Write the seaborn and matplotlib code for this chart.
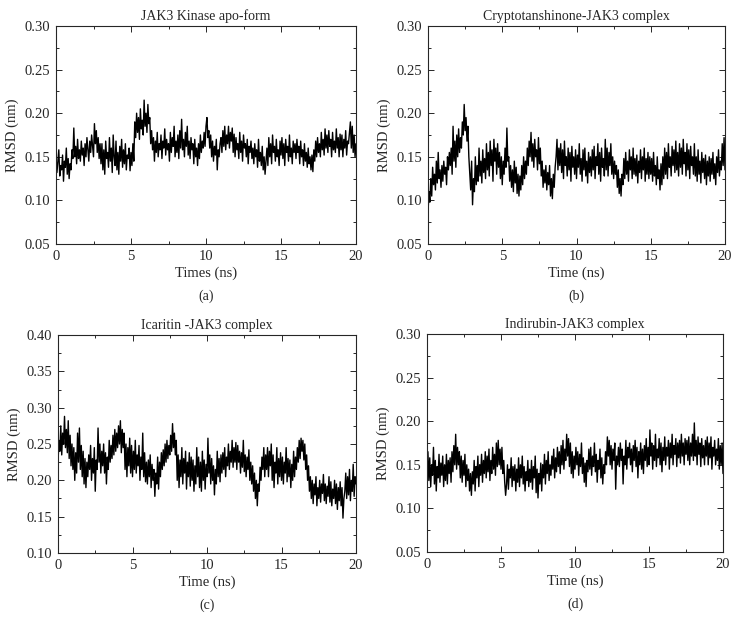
import pandas as pd
import matplotlib
matplotlib.use("Agg")
import matplotlib.pyplot as plt
import seaborn as sns
from matplotlib import ticker

# RMSD traces (nm), sampled 16 times per ns from 0 to 20 ns
rmsd_apo = [
    0.150, 0.132, 0.145, 0.158, 0.128, 0.140, 0.135, 0.152, 0.122, 0.145, 0.138, 0.160, 0.130, 0.148, 0.125, 0.142,
    0.135, 0.158, 0.148, 0.183, 0.150, 0.162, 0.142, 0.170, 0.148, 0.158, 0.145, 0.168, 0.152, 0.160, 0.140, 0.165,
    0.150, 0.172, 0.158, 0.145, 0.168, 0.155, 0.175, 0.162, 0.150, 0.188, 0.165, 0.180, 0.155, 0.172, 0.148, 0.165,
    0.142, 0.165, 0.135, 0.158, 0.130, 0.168, 0.148, 0.155, 0.138, 0.172, 0.145, 0.160, 0.132, 0.175, 0.150, 0.140,
    0.168, 0.135, 0.155, 0.130, 0.162, 0.145, 0.170, 0.138, 0.158, 0.142, 0.165, 0.135, 0.152, 0.148, 0.160, 0.134,
    0.155, 0.140, 0.165, 0.145, 0.190, 0.172, 0.200, 0.178, 0.195, 0.170, 0.205, 0.182, 0.192, 0.175, 0.215, 0.185,
    0.200, 0.178, 0.210, 0.188, 0.195, 0.165, 0.180, 0.158, 0.172, 0.145, 0.168, 0.155, 0.178, 0.150, 0.165, 0.158,
    0.175, 0.148, 0.168, 0.160, 0.182, 0.152, 0.170, 0.158, 0.165, 0.145, 0.178, 0.155, 0.172, 0.162, 0.185, 0.150,
    0.168, 0.155, 0.175, 0.148, 0.180, 0.160, 0.193, 0.158, 0.170, 0.150, 0.178, 0.162, 0.185, 0.152, 0.168, 0.148,
    0.172, 0.158, 0.165, 0.142, 0.170, 0.150, 0.160, 0.140, 0.165, 0.148, 0.175, 0.155, 0.168, 0.160, 0.178, 0.162,
    0.185, 0.195, 0.172, 0.180, 0.160, 0.175, 0.150, 0.168, 0.145, 0.162, 0.152, 0.170, 0.135, 0.158, 0.150, 0.165,
    0.172, 0.155, 0.180, 0.162, 0.185, 0.158, 0.175, 0.165, 0.185, 0.160, 0.178, 0.168, 0.183, 0.155, 0.176, 0.150,
    0.172, 0.158, 0.165, 0.148, 0.178, 0.155, 0.168, 0.145, 0.175, 0.160, 0.165, 0.150, 0.170, 0.142, 0.162, 0.155,
    0.168, 0.148, 0.160, 0.142, 0.165, 0.150, 0.158, 0.138, 0.170, 0.145, 0.155, 0.140, 0.162, 0.135, 0.150, 0.130,
    0.145, 0.160, 0.140, 0.172, 0.150, 0.165, 0.142, 0.175, 0.155, 0.162, 0.145, 0.170, 0.150, 0.158, 0.140, 0.168,
    0.152, 0.172, 0.148, 0.165, 0.140, 0.170, 0.155, 0.162, 0.145, 0.175, 0.150, 0.160, 0.142, 0.168, 0.155, 0.165,
    0.148, 0.170, 0.155, 0.162, 0.142, 0.168, 0.150, 0.158, 0.140, 0.165, 0.145, 0.155, 0.138, 0.160, 0.142, 0.150,
    0.135, 0.152, 0.133, 0.158, 0.145, 0.168, 0.150, 0.172, 0.155, 0.165, 0.150, 0.178, 0.158, 0.170, 0.152, 0.182,
    0.160, 0.175, 0.155, 0.180, 0.162, 0.170, 0.150, 0.178, 0.158, 0.168, 0.155, 0.182, 0.160, 0.172, 0.150, 0.176,
    0.158, 0.175, 0.150, 0.170, 0.160, 0.180, 0.152, 0.168, 0.165, 0.178, 0.190, 0.160, 0.185, 0.155, 0.175, 0.150,
    0.165,
]

rmsd_crypto = [
    0.085, 0.110, 0.098, 0.125, 0.105, 0.138, 0.118, 0.130, 0.112, 0.145, 0.120, 0.155, 0.125, 0.135, 0.115, 0.140,
    0.122, 0.145, 0.130, 0.138, 0.118, 0.150, 0.135, 0.155, 0.140, 0.160, 0.130, 0.185, 0.145, 0.168, 0.138, 0.175,
    0.150, 0.182, 0.155, 0.172, 0.160, 0.190, 0.175, 0.210, 0.180, 0.195, 0.168, 0.185, 0.150, 0.130, 0.112, 0.145,
    0.095, 0.125, 0.110, 0.150, 0.118, 0.140, 0.122, 0.160, 0.128, 0.145, 0.120, 0.158, 0.132, 0.148, 0.125, 0.165,
    0.135, 0.155, 0.128, 0.168, 0.140, 0.158, 0.122, 0.170, 0.145, 0.160, 0.130, 0.165, 0.138, 0.155, 0.125, 0.150,
    0.118, 0.145, 0.130, 0.160, 0.138, 0.183, 0.145, 0.150, 0.122, 0.140, 0.115, 0.135, 0.110, 0.145, 0.120, 0.138,
    0.108, 0.130, 0.105, 0.128, 0.112, 0.140, 0.118, 0.150, 0.125, 0.145, 0.130, 0.160, 0.140, 0.168, 0.150, 0.178,
    0.145, 0.165, 0.138, 0.170, 0.150, 0.158, 0.135, 0.172, 0.142, 0.160, 0.128, 0.145, 0.115, 0.135, 0.120, 0.140,
    0.112, 0.132, 0.118, 0.140, 0.105, 0.125, 0.102, 0.130, 0.115, 0.138, 0.150, 0.170, 0.135, 0.160, 0.140, 0.165,
    0.132, 0.158, 0.125, 0.168, 0.140, 0.150, 0.128, 0.160, 0.135, 0.155, 0.122, 0.162, 0.138, 0.150, 0.130, 0.158,
    0.125, 0.152, 0.138, 0.165, 0.130, 0.148, 0.122, 0.158, 0.135, 0.160, 0.128, 0.145, 0.120, 0.155, 0.132, 0.150,
    0.128, 0.158, 0.135, 0.162, 0.125, 0.150, 0.140, 0.165, 0.130, 0.155, 0.122, 0.160, 0.138, 0.148, 0.128, 0.170,
    0.135, 0.160, 0.128, 0.155, 0.140, 0.165, 0.130, 0.150, 0.125, 0.145, 0.130, 0.140, 0.115, 0.135, 0.108, 0.125,
    0.105, 0.130, 0.118, 0.148, 0.125, 0.155, 0.130, 0.145, 0.122, 0.158, 0.135, 0.150, 0.125, 0.160, 0.130, 0.148,
    0.128, 0.152, 0.120, 0.145, 0.132, 0.158, 0.125, 0.150, 0.135, 0.160, 0.122, 0.148, 0.130, 0.155, 0.125, 0.150,
    0.130, 0.148, 0.122, 0.155, 0.128, 0.140, 0.118, 0.150, 0.125, 0.135, 0.112, 0.142, 0.118, 0.150, 0.125, 0.160,
    0.130, 0.155, 0.125, 0.165, 0.138, 0.150, 0.128, 0.162, 0.140, 0.158, 0.132, 0.168, 0.135, 0.155, 0.128, 0.165,
    0.138, 0.160, 0.130, 0.170, 0.142, 0.155, 0.128, 0.165, 0.135, 0.158, 0.125, 0.162, 0.140, 0.150, 0.130, 0.165,
    0.128, 0.150, 0.122, 0.158, 0.130, 0.145, 0.120, 0.155, 0.132, 0.148, 0.125, 0.152, 0.118, 0.145, 0.128, 0.150,
    0.122, 0.148, 0.130, 0.155, 0.125, 0.142, 0.118, 0.150, 0.132, 0.158, 0.128, 0.145, 0.135, 0.165, 0.140, 0.172,
    0.135,
]

rmsd_icaritin = [
    0.225, 0.255, 0.240, 0.275, 0.235, 0.265, 0.250, 0.288, 0.245, 0.270, 0.238, 0.282, 0.230, 0.262, 0.220, 0.250,
    0.215, 0.245, 0.200, 0.238, 0.210, 0.265, 0.225, 0.272, 0.215, 0.248, 0.205, 0.240, 0.195, 0.230, 0.190, 0.225,
    0.205, 0.235, 0.215, 0.248, 0.200, 0.230, 0.210, 0.245, 0.185, 0.228, 0.215, 0.272, 0.225, 0.250, 0.210, 0.240,
    0.220, 0.250, 0.210, 0.238, 0.195, 0.232, 0.215, 0.255, 0.225, 0.248, 0.230, 0.262, 0.235, 0.270, 0.240, 0.265,
    0.245, 0.275, 0.250, 0.282, 0.238, 0.270, 0.245, 0.265, 0.215, 0.250, 0.205, 0.245, 0.220, 0.258, 0.210, 0.248,
    0.205, 0.240, 0.215, 0.255, 0.210, 0.235, 0.220, 0.248, 0.200, 0.232, 0.215, 0.265, 0.205, 0.238, 0.198, 0.225,
    0.195, 0.228, 0.205, 0.235, 0.190, 0.222, 0.200, 0.215, 0.178, 0.210, 0.195, 0.232, 0.188, 0.225, 0.205, 0.238,
    0.215, 0.242, 0.220, 0.250, 0.225, 0.255, 0.230, 0.248, 0.235, 0.262, 0.240, 0.278, 0.245, 0.265, 0.235, 0.255,
    0.200, 0.235, 0.190, 0.228, 0.205, 0.245, 0.195, 0.230, 0.210, 0.240, 0.188, 0.225, 0.205, 0.238, 0.192, 0.232,
    0.200, 0.228, 0.185, 0.220, 0.195, 0.245, 0.205, 0.232, 0.190, 0.225, 0.185, 0.240, 0.200, 0.228, 0.188, 0.222,
    0.205, 0.258, 0.210, 0.235, 0.195, 0.230, 0.200, 0.220, 0.180, 0.215, 0.195, 0.240, 0.205, 0.230, 0.198, 0.235,
    0.210, 0.238, 0.215, 0.245, 0.205, 0.232, 0.220, 0.250, 0.215, 0.240, 0.225, 0.255, 0.218, 0.245, 0.225, 0.252,
    0.215, 0.248, 0.225, 0.240, 0.210, 0.238, 0.218, 0.255, 0.212, 0.235, 0.205, 0.232, 0.215, 0.242, 0.200, 0.225,
    0.195, 0.220, 0.185, 0.210, 0.175, 0.200, 0.165, 0.195, 0.185, 0.218, 0.200, 0.232, 0.215, 0.245, 0.205, 0.235,
    0.215, 0.245, 0.205, 0.240, 0.220, 0.250, 0.200, 0.235, 0.190, 0.225, 0.210, 0.245, 0.195, 0.230, 0.205, 0.238,
    0.200, 0.232, 0.195, 0.225, 0.210, 0.245, 0.198, 0.230, 0.205, 0.228, 0.190, 0.222, 0.200, 0.240, 0.205, 0.232,
    0.215, 0.245, 0.225, 0.255, 0.230, 0.258, 0.240, 0.255, 0.228, 0.250, 0.215, 0.235, 0.200, 0.220, 0.185, 0.205,
    0.175, 0.200, 0.168, 0.195, 0.180, 0.205, 0.165, 0.190, 0.175, 0.200, 0.170, 0.195, 0.182, 0.208, 0.172, 0.195,
    0.168, 0.192, 0.178, 0.205, 0.170, 0.198, 0.165, 0.188, 0.175, 0.200, 0.168, 0.195, 0.160, 0.190, 0.172, 0.198,
    0.165, 0.190, 0.148, 0.175, 0.185, 0.210, 0.175, 0.205, 0.180, 0.215, 0.172, 0.200, 0.185, 0.222, 0.178, 0.205,
    0.195,
]

rmsd_indirubin = [
    0.140, 0.165, 0.132, 0.158, 0.125, 0.150, 0.138, 0.170, 0.128, 0.155, 0.120, 0.148, 0.135, 0.162, 0.130, 0.152,
    0.138, 0.160, 0.125, 0.150, 0.132, 0.162, 0.128, 0.155, 0.140, 0.158, 0.130, 0.165, 0.142, 0.172, 0.150, 0.185,
    0.145, 0.170, 0.150, 0.165, 0.135, 0.160, 0.130, 0.155, 0.138, 0.162, 0.125, 0.150, 0.132, 0.145, 0.120, 0.140,
    0.115, 0.142, 0.128, 0.155, 0.120, 0.148, 0.135, 0.160, 0.125, 0.150, 0.138, 0.162, 0.130, 0.155, 0.140, 0.165,
    0.135, 0.160, 0.142, 0.168, 0.132, 0.155, 0.140, 0.170, 0.145, 0.162, 0.138, 0.175, 0.148, 0.178, 0.150, 0.168,
    0.145, 0.170, 0.140, 0.155, 0.130, 0.115, 0.128, 0.150, 0.122, 0.145, 0.135, 0.158, 0.125, 0.148, 0.132, 0.150,
    0.120, 0.145, 0.130, 0.158, 0.125, 0.150, 0.135, 0.160, 0.128, 0.148, 0.120, 0.142, 0.132, 0.155, 0.125, 0.145,
    0.130, 0.155, 0.122, 0.148, 0.135, 0.160, 0.118, 0.145, 0.112, 0.140, 0.128, 0.152, 0.120, 0.150, 0.135, 0.162,
    0.128, 0.155, 0.140, 0.165, 0.132, 0.150, 0.138, 0.160, 0.145, 0.168, 0.135, 0.158, 0.142, 0.170, 0.148, 0.165,
    0.140, 0.172, 0.150, 0.178, 0.145, 0.168, 0.155, 0.185, 0.160, 0.180, 0.148, 0.175, 0.140, 0.165, 0.135, 0.160,
    0.145, 0.170, 0.150, 0.165, 0.138, 0.162, 0.148, 0.175, 0.140, 0.158, 0.130, 0.152, 0.125, 0.155, 0.142, 0.168,
    0.145, 0.170, 0.138, 0.160, 0.148, 0.175, 0.142, 0.162, 0.130, 0.155, 0.145, 0.168, 0.135, 0.158, 0.128, 0.150,
    0.140, 0.165, 0.150, 0.182, 0.160, 0.178, 0.150, 0.172, 0.145, 0.168, 0.155, 0.175, 0.122, 0.160, 0.150, 0.170,
    0.148, 0.175, 0.155, 0.168, 0.128, 0.160, 0.150, 0.178, 0.145, 0.170, 0.158, 0.175, 0.150, 0.168, 0.142, 0.172,
    0.155, 0.178, 0.148, 0.170, 0.135, 0.165, 0.150, 0.175, 0.145, 0.168, 0.140, 0.172, 0.155, 0.180, 0.148, 0.170,
    0.150, 0.190, 0.160, 0.175, 0.145, 0.172, 0.155, 0.185, 0.148, 0.168, 0.158, 0.180, 0.150, 0.175, 0.142, 0.170,
    0.155, 0.182, 0.150, 0.170, 0.160, 0.178, 0.145, 0.175, 0.158, 0.185, 0.150, 0.172, 0.162, 0.180, 0.148, 0.175,
    0.158, 0.178, 0.152, 0.185, 0.160, 0.175, 0.150, 0.180, 0.162, 0.178, 0.155, 0.182, 0.150, 0.175, 0.160, 0.185,
    0.155, 0.198, 0.160, 0.178, 0.150, 0.182, 0.162, 0.175, 0.148, 0.180, 0.158, 0.172, 0.150, 0.178, 0.160, 0.182,
    0.150, 0.175, 0.158, 0.182, 0.145, 0.170, 0.160, 0.178, 0.150, 0.168, 0.155, 0.180, 0.145, 0.172, 0.150, 0.175,
    0.140,
]

titles = ["JAK3 Kinase apo-form", "Cryptotanshinone-JAK3 complex",
          "Icaritin -JAK3 complex", "Indirubin-JAK3 complex"]
xlabels = ["Times (ns)", "Time (ns)", "Time (ns)", "Time (ns)"]
tags = ["(a)", "(b)", "(c)", "(d)"]
ylims = [(0.05, 0.30), (0.05, 0.30), (0.10, 0.40), (0.05, 0.30)]
series = [rmsd_apo, rmsd_crypto, rmsd_icaritin, rmsd_indirubin]

sns.set_theme(style="ticks")
plt.rcParams["font.family"] = ["Liberation Serif", "DejaVu Serif"]
plt.rcParams["axes.linewidth"] = 0.8

fig = plt.figure(figsize=(7.39, 6.35), dpi=100)

# axes boxes in figure fractions: left, bottom, width, height
boxes = [
    (56 / 739, 1 - 244 / 635, 300 / 739, 218 / 635),
    (428 / 739, 1 - 244 / 635, 297 / 739, 218 / 635),
    (58 / 739, 1 - 553 / 635, 298 / 739, 218 / 635),
    (427 / 739, 1 - 552 / 635, 296 / 739, 218 / 635),
]

for box, title, xlabel, tag, values, ylim in zip(boxes, titles, xlabels, tags, series, ylims):
    ax = fig.add_axes(box)
    n = len(values)
    df = pd.DataFrame({"time": [20 * i / (n - 1) for i in range(n)], "rmsd": values})
    sns.lineplot(data=df, x="time", y="rmsd", ax=ax, color="black", linewidth=1.0)
    ax.set_xlim(0, 20)
    ax.set_ylim(*ylim)
    ax.xaxis.set_major_locator(ticker.MultipleLocator(5))
    ax.xaxis.set_minor_locator(ticker.MultipleLocator(2.5))
    ax.yaxis.set_major_locator(ticker.MultipleLocator(0.05))
    ax.yaxis.set_minor_locator(ticker.MultipleLocator(0.025))
    ax.yaxis.set_major_formatter(ticker.FormatStrFormatter("%.2f"))
    ax.tick_params(which="both", direction="in", top=True, right=True, labelsize=10.5, pad=4)
    ax.tick_params(which="major", length=4, width=0.7)
    ax.tick_params(which="minor", length=2.5, width=0.7)
    ax.set_title(title, fontsize=10, pad=4)
    ax.set_xlabel(xlabel, fontsize=10.5, labelpad=3)
    ax.set_ylabel("RMSD (nm)", fontsize=10.5, labelpad=4)
    ax.text(0.5, -0.24, tag, transform=ax.transAxes, ha="center", va="center", fontsize=10)

fig.savefig("out.png", dpi=100)
